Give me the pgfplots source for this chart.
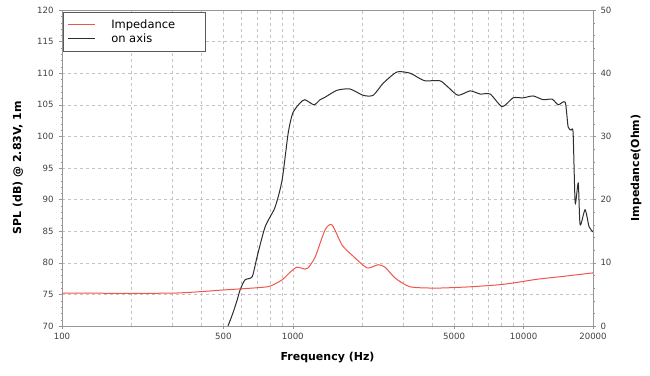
\documentclass[border=0pt]{standalone}
\usepackage{fontspec}
\setmainfont{DejaVu Sans}
\usepackage{pgfplots}
\pgfplotsset{compat=1.18}
\definecolor{impred}{RGB}{240,85,75}
\definecolor{spldark}{RGB}{45,45,45}
\definecolor{gridgray}{RGB}{195,195,195}
\definecolor{axgray}{RGB}{150,150,150}
\begin{document}
\begin{tikzpicture}
\begin{axis}[name=ax,
  scale only axis, width=531pt, height=316pt,
  xmode=log, xmin=100, xmax=20000,
  xtick={100,500,1000,5000,10000,20000},
  xticklabels={100,500,1000,5000,10000,20000},
  /pgf/number format/assume math mode=true,
  tick label style={font=\fontsize{8.6}{9}\selectfont, text=black!75},
  axis line style={axgray},
  major tick style={axgray}, minor tick style={axgray},
  tick align=outside, major tick length=3pt, minor tick length=1.5pt,
  label style={font=\fontsize{11}{13}\selectfont\bfseries},
  ymin=70, ymax=120, ytick={70,75,...,120},
  minor y tick num=4,
  minor xtick={200,300,400,600,700,800,900,2000,3000,4000,6000,7000,8000,9000},
  xtick pos=bottom, ytick pos=left,
  xmajorgrids, xminorgrids, ymajorgrids,
  major grid style={gridgray, dashed, line width=0.4pt},
  minor grid style={gridgray, dashed, line width=0.4pt},
  xlabel={Frequency (Hz)},
  ylabel={SPL (dB) @ 2.83V, 1m},
  xlabel style={at={(axis description cs:0.5,-0.101)}, anchor=center},
  ylabel style={at={(axis description cs:-0.0829,0.5)}, anchor=center},
  xticklabel style={yshift=-1pt},
  yticklabel style={xshift=-2pt},
  legend style={at={(axis description cs:0.002,0.994)}, anchor=north west,
    draw=black!65, fill=white, font=\fontsize{11.5}{12}\selectfont,
    inner xsep=4pt, inner ysep=5.5pt, row sep=0pt},
  legend cell align=left,
  legend image code/.code={\draw[#1] (0pt,0pt) -- (27pt,0pt);},
]
\addlegendimage{impred, line width=1pt}
\addlegendentry{\hspace{14pt}Impedance\hspace{24pt}\mbox{}}
\addplot[spldark, line width=1pt, smooth, tension=0.4] coordinates {
(524,70) (551,72.1) (574,74.1) (591,75.7) (621,77.3) (667,77.8) (700,80.9)
(759,85.7) (838,88.8) (899,93.1) (955,100.5) (1000,103.7) (1076,105.3)
(1130,105.8) (1236,105.0) (1313,105.8) (1380,106.2) (1556,107.3) (1770,107.5)
(2017,106.5) (2230,106.5) (2463,108.4) (2830,110.2) (3225,110.0) (3456,109.4)
(3745,108.8) (4346,108.8) (4708,107.8) (5200,106.5) (5870,107.2) (6490,106.7)
(7170,106.7) (8080,104.7) (9010,106.1) (9960,106.1) (11010,106.4) (12160,105.8)
(13300,105.9) (14130,105.0) (15150,105.4) (15600,101.5) (16080,101.0) (16400,100.5)
(16740,89.5) (17260,92.6) (17590,86.0) (18480,88.4) (19230,85.7) (20000,84.9)
};
\addlegendentry{\hspace{14pt}on axis}
\end{axis}
\begin{axis}[
  scale only axis, width=531pt, height=316pt,
  xmode=log, xmin=100, xmax=20000,
  /pgf/number format/assume math mode=true,
  tick label style={font=\fontsize{8.6}{9}\selectfont, text=black!75},
  axis line style={axgray},
  major tick style={axgray}, minor tick style={axgray},
  tick align=outside, major tick length=3pt, minor tick length=1.5pt,
  label style={font=\fontsize{11}{13}\selectfont\bfseries},
  axis x line=none, axis y line*=right,
  ymin=0, ymax=50, ytick={0,10,...,50}, minor y tick num=4,
  yticklabel style={xshift=1pt},
  ylabel={Impedance(Ohm)},
  ylabel style={at={(axis description cs:1.081,0.5)}, anchor=center},
]
\addplot[impred, line width=1pt, smooth, tension=0.4] coordinates {
(100,5.2) (300,5.2) (500,5.7) (670,6.0) (774,6.2) (820,6.5) (899,7.3)
(973,8.5) (1042,9.3) (1130,9.0) (1166,9.2) (1250,10.9) (1380,15.2) (1479,16.0)
(1636,12.8) (1808,11.2) (2098,9.2) (2343,9.7) (2514,9.3) (2775,7.6) (3225,6.2)
(4220,6.0) (5870,6.2) (7690,6.5) (9010,6.8) (11460,7.4) (14430,7.8) (20000,8.4)
};
\end{axis}
\pgfresetboundingbox
\path ([shift={(-62pt,-50pt)}]ax.south west) rectangle ([shift={(57pt,10pt)}]ax.north east);
\end{tikzpicture}
\end{document}
